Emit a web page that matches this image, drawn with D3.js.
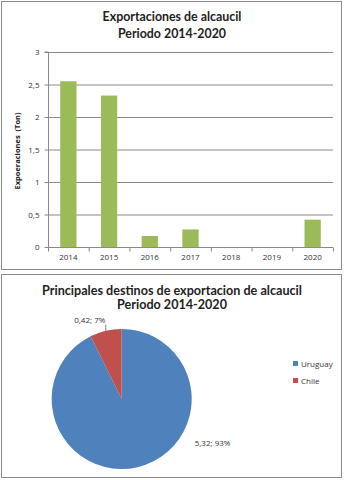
<!DOCTYPE html>
<html><head><meta charset="utf-8">
<script src="https://cdn.jsdelivr.net/npm/d3@7"></script>
<style>body{margin:0;background:#fff}svg{display:block}</style>
</head><body>
<script>
const years = ["2014","2015","2016","2017","2018","2019","2020"];
const exportValues = [2.55, 2.33, 0.17, 0.27, 0, 0, 0.42];
const yTicks = [0, 0.5, 1, 1.5, 2, 2.5, 3];
const destinations = ["Uruguay", "Chile"];
const destValues = [5.32, 0.42];
const destPct = ["93%", "7%"];
const destColors = ["#4F81BD", "#C0504D"];

const W = 344, H = 480;
const font = "Open Sans, Liberation Sans, sans-serif";
const tfont = "Lato, Open Sans, sans-serif";
const svg = d3.select("body").append("svg").attr("width", W).attr("height", H);
svg.append("rect").attr("width", W).attr("height", H).attr("fill", "#fff");

svg.append("rect").attr("x", 1.5).attr("y", 1.5).attr("width", 340).attr("height", 268)
  .attr("fill", "#fff").attr("stroke", "#8c8c8c");
svg.append("rect").attr("x", 1.5).attr("y", 274.5).attr("width", 340).attr("height", 203)
  .attr("fill", "#fff").attr("stroke", "#8c8c8c");

function titleBlock(lines, cx, base, gap, targetW) {
  const ts = lines.map((txt, i) => svg.append("text").attr("x", cx).attr("y", base + i * gap)
    .attr("text-anchor", "middle").attr("font-family", tfont).attr("font-weight", "bold")
    .attr("font-size", 12).attr("fill", "#222").text(txt));
  const w = ts[0].node().getComputedTextLength();
  const fs = w > 0 ? 12 * targetW / w : 12;
  ts.forEach(t => t.attr("font-size", fs));
}

// ---- bar chart
const x = d3.scaleBand().domain(years).range([48, 333]);
const y = d3.scaleLinear().domain([0, 3]).range([247, 52]);

titleBlock(["Exportaciones de alcaucil", "Periodo 2014-2020"], 172, 21, 17, 139);

const g = svg.append("g");
g.selectAll("line.grid").data(yTicks.filter(d => d > 0)).join("line")
  .attr("x1", 48).attr("x2", 333).attr("y1", d => y(d) + 0.5).attr("y2", d => y(d) + 0.5)
  .attr("stroke", "#8a8a8a").attr("stroke-width", 1);

const yAxis = d3.axisLeft(y).tickValues(yTicks).tickSize(4).tickFormat(d => String(d).replace(".", ","));
const ya = svg.append("g").attr("transform", "translate(48.5,0)").call(yAxis);
ya.selectAll("text").attr("font-family", font).attr("font-size", 8).attr("fill", "#333").attr("dx", "-2");
ya.selectAll("line").attr("stroke", "#8a8a8a");
ya.select(".domain").attr("stroke", "#8a8a8a").attr("d", "M-4," + (y(3)) + "H0V" + y(0));

g.selectAll("rect.bar").data(exportValues).join("rect")
  .attr("x", (d, i) => x(years[i]) + x.bandwidth() * 0.3)
  .attr("width", x.bandwidth() * 0.4)
  .attr("y", d => y(d)).attr("height", d => y(0) - y(d))
  .attr("fill", "#9BBB59");

const xAxis = d3.axisBottom(x).tickSize(0);
const xa = svg.append("g").attr("transform", "translate(0," + (y(0) + 0.5) + ")").call(xAxis);
xa.select(".domain").attr("stroke", "#8a8a8a").attr("d", "M48,0H333");
xa.selectAll("text").attr("font-family", font).attr("font-size", 8).attr("fill", "#333").attr("dy", "1.2em");
xa.selectAll("line.sep").data(d3.range(years.length + 1)).join("line")
  .attr("x1", i => 48.5 + i * x.step()).attr("x2", i => 48.5 + i * x.step())
  .attr("y1", 0).attr("y2", 4).attr("stroke", "#8a8a8a");

svg.append("text").attr("transform", "translate(20,151) rotate(-90)").attr("text-anchor", "middle")
  .attr("font-family", font).attr("font-weight", "bold").attr("font-size", 7.5).attr("fill", "#222")
  .attr("xml:space", "preserve").text("Expoeraciones  (Ton)");

// ---- pie chart
titleBlock(["Principales destinos de exportacion de alcaucil", "Periodo 2014-2020"], 172, 295, 14, 260);

const cx = 121.7, cy = 399, r = 70;
const pie = d3.pie().sort(null).value(d => d)(destValues);
const arc = d3.arc().innerRadius(0).outerRadius(r);
const pg = svg.append("g").attr("transform", `translate(${cx},${cy})`);
pg.selectAll("path").data(pie).join("path").attr("d", arc)
  .attr("fill", (d, i) => destColors[i]);

const fmt = v => String(v).replace(".", ",");
const chile = pie[1];
const ca = (chile.startAngle + chile.endAngle) / 2;
const px = Math.sin(ca) * r, py = -Math.cos(ca) * r;
pg.append("line").attr("x1", px).attr("y1", py).attr("x2", px).attr("y2", py - 6)
  .attr("stroke", "#666").attr("stroke-width", 0.8);
pg.append("text").attr("x", px - 16).attr("y", py - 8).attr("text-anchor", "middle")
  .attr("font-family", font).attr("font-size", 8).attr("fill", "#333")
  .text(fmt(destValues[1]) + "; " + destPct[1]);
pg.append("text").attr("x", 73).attr("y", 47).attr("text-anchor", "start")
  .attr("font-family", font).attr("font-size", 8).attr("fill", "#333")
  .text(fmt(destValues[0]) + "; " + destPct[0]);

const lg = svg.append("g");
destinations.forEach((name, i) => {
  lg.append("rect").attr("x", 293).attr("y", 366 + i * 17 - 5).attr("width", 5).attr("height", 5)
    .attr("fill", destColors[i]);
  lg.append("text").attr("x", 301).attr("y", 366 + i * 17 + 0.5).attr("font-family", font)
    .attr("font-size", 8).attr("fill", "#333").text(name);
});
</script>
</body></html>
